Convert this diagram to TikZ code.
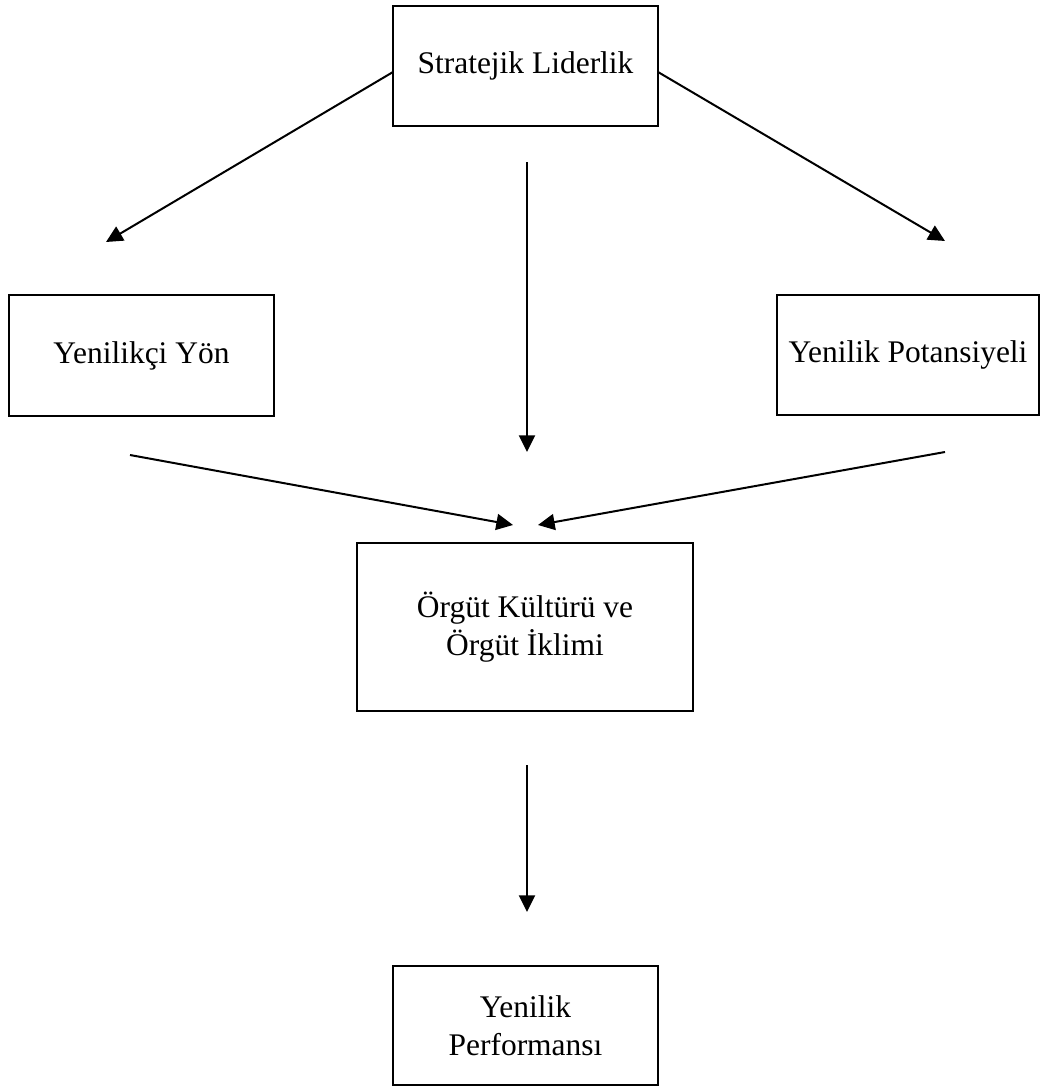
\documentclass[tikz,border=0pt]{standalone}
\usepackage{fontspec}
\setmainfont{Liberation Serif}
\usetikzlibrary{arrows.meta}
\begin{document}
\begin{tikzpicture}[x=0.75pt,y=-0.75pt,
  box/.style={draw, line width=1.5pt, inner sep=0pt, align=center,
    font=\fontsize{23.6}{28.5}\selectfont},
  link/.style={line width=1.5pt, -{Triangle[length=12.5pt,width=12pt]}}]
\useasboundingbox (0,0) rectangle (1041,1086);
% boxes
\node[box, minimum width=198.75pt, minimum height=90pt] (lead) at (525.5,66) {Stratejik Liderlik};
\node[box, minimum width=198.75pt, minimum height=90.75pt] (inno) at (141.5,355.5) {Yenilikçi Yön};
\node[box, minimum width=196.5pt, minimum height=90pt] (pot) at (908,355) {Yenilik Potansiyeli};
\node[box, minimum width=252pt, minimum height=126pt] (cult) at (525,627) {Örgüt Kültürü ve\\Örgüt İklimi};
\node[box, minimum width=198.75pt, minimum height=89.25pt] (perf) at (525.5,1025.5) {Yenilik\\Performansı};
% free connector ends
\coordinate (l1s) at (393,72);   \coordinate (l1e) at (106,242);
\coordinate (r1s) at (658,72);   \coordinate (r1e) at (945,241);
\coordinate (m1s) at (527,162);  \coordinate (m1e) at (527,452);
\coordinate (l2s) at (130,455);  \coordinate (l2e) at (513,525);
\coordinate (r2s) at (945,452);  \coordinate (r2e) at (538,525);
\coordinate (m2s) at (527,765);  \coordinate (m2e) at (527,912);
% connectors
\draw[link] (l1s) -- (l1e);
\draw[link] (r1s) -- (r1e);
\draw[link] (m1s) -- (m1e);
\draw[link] (l2s) -- (l2e);
\draw[link] (r2s) -- (r2e);
\draw[link] (m2s) -- (m2e);
\end{tikzpicture}
\end{document}
